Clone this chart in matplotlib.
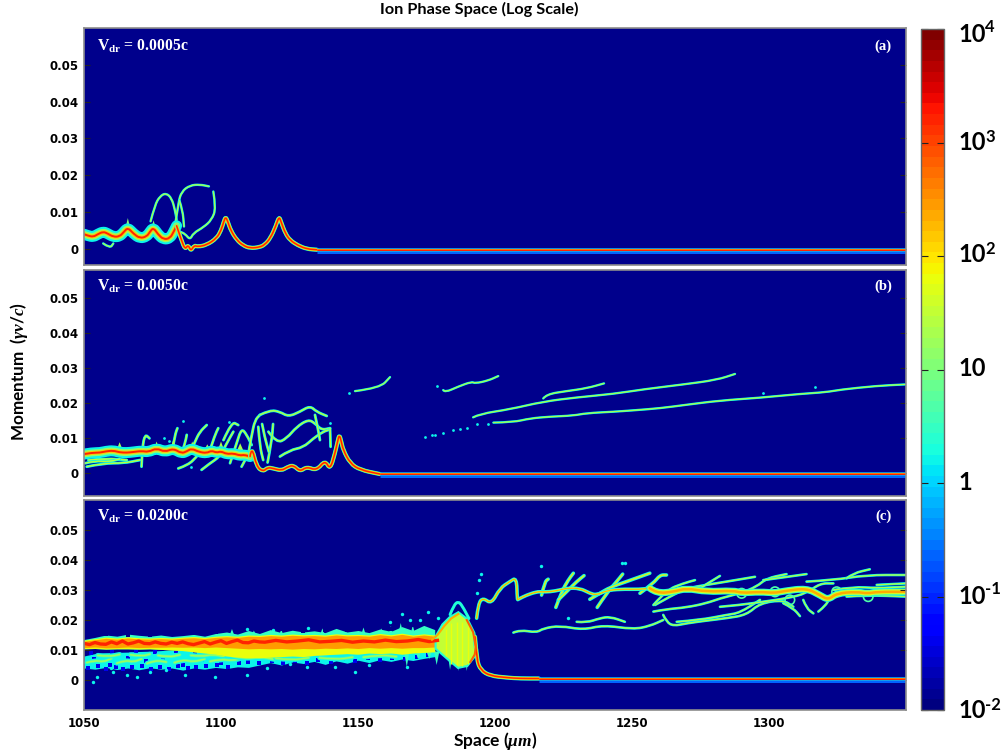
import numpy as np
import matplotlib
matplotlib.use('Agg')
import matplotlib.pyplot as plt
from matplotlib.colors import LogNorm
from matplotlib.path import Path
from matplotlib.patches import PathPatch

plt.rcParams['mathtext.fontset'] = 'custom'
plt.rcParams['mathtext.bf'] = 'Lato:bold'
plt.rcParams['mathtext.it'] = 'Liberation Serif:italic:bold'
plt.rcParams['mathtext.rm'] = 'Lato:bold'
plt.rcParams['mathtext.sf'] = 'Liberation Serif:bold'

W, H = 1006, 755

# ---- panel (a)
a_thick_x = [1050, 1051.5, 1053.4, 1055, 1057, 1058.6, 1060.7, 1063, 1064.5, 1066, 1068, 1070.4, 1072.9, 1074, 1075.3, 1077, 1079, 1081.4, 1082.8, 1083.8]
a_thick_y = [.0040, .0036, .0033, .0040, .0047, .0042, .0033, .0034, .0046, .0058, .0042, .0029, .0034, .0046, .0058, .0040, .0026, .0029, .0048, .0063]
a_thin_x = [1083.8, 1085.5, 1086.9, 1088, 1089, 1090.2, 1091.5, 1094.8, 1098.4, 1100, 1101, 1101.7, 1102.5, 1103.6, 1105.7,
            1108, 1110.6, 1114.2, 1116, 1118, 1120, 1121.2, 1122, 1123.5, 1125.2, 1128, 1131.3, 1135]
a_thin_y = [.0063, .0025, -.0002, .0012, -.0006, .0010, .0006, .0011, .0029, .0050, .0074, .0088, .0074, .0050, .0025,
            .0010, .0002, .0005, .0012, .0029, .0062, .0089, .0072, .0042, .0024, .0010, .0000, -.0002]
a_base_x = [1135, 1350]
a_base_y = [-.0002, -.0002]
a_spike_x = [1066, 1075.4, 1084]
a_spike_y = [.0084, .0078, .0078]
a_loop1_x = [1074.3, 1075.9, 1077.7, 1079.9, 1082, 1083.2, 1083.8]
a_loop1_y = [.0075, .0120, .0143, .0152, .0138, .0106, .0079]
a_loop2_x = [1083.2, 1084.4, 1085.6, 1088.7, 1092.3, 1095.6]
a_loop2_y = [.0061, .0125, .0156, .0173, .0175, .0170]
a_loop3_x = [1097.2, 1098.2, 1096.6, 1093.6, 1089.9, 1088.7, 1086.9, 1085]
a_loop3_y = [.0156, .0111, .0079, .0059, .0043, .0025, .0041, .0047]
a_loop4_x = [1084.8, 1086, 1086.5]
a_loop4_y = [.0132, .0106, .0061]
a_low_x = [1057, 1059.5, 1060.7]
a_low_y = [.0015, .0002, .0015]

# ---- panel (b)
b_thick_x = [1050, 1053, 1055.8, 1058, 1060.7, 1063, 1065.6, 1068, 1071, 1073.5, 1076.5, 1079.5, 1082.6, 1085.6, 1087.5, 1089.3, 1092, 1094.8, 1096.5, 1098.4, 1100, 1102.1, 1104.5, 1106.9, 1108.5, 1110.6]
b_thick_y = [.0054, .0058, .0058, .0062, .0064, .0059, .0058, .0060, .0063, .0060, .0071, .0060, .0070, .0056, .0062, .0070, .0060, .0057, .0064, .0058, .0062, .0054, .0056, .0050, .0052, .0047]
b_thin_x = [1110.6, 1111.2, 1113, 1115.4, 1117, 1119.1, 1122.1, 1124, 1126.4, 1128.8, 1131.3, 1134.9, 1138, 1139.8, 1141.6, 1142.6, 1143.2, 1143.9,
            1144.6, 1147.1, 1150.7, 1158]
b_thin_y = [.0047, .0078, .0018, .0004, .0016, .0013, .0007, .0016, .0023, .0004, .0018, .0007, .0037, .0009, .0056, .0092, .0110, .0090,
            .0066, .0028, .0009, -.0003]
b_base_x = [1158, 1350]
b_base_y = [-.0003, -.0003]
b_spike_x = [1063, 1076.5, 1082.6, 1089.5, 1095, 1100, 1107]
b_spike_y = [.0088, .0090, .0095, .0090, .0082, .0090, .0085]
b_filaments = [
    ([1071, 1071.3, 1072.3, 1073.9], [.0018, .0075, .0111, .0099]),
    ([1082, 1083.2, 1084.1], [.0056, .0109, .0128]),
    ([1085.6, 1086.9, 1087.5], [.0056, .0085, .0109]),
    ([1088.7, 1090.5, 1092.3, 1094.8], [.0056, .0090, .0118, .0137]),
    ([1092.9, 1096, 1099.6, 1102.1, 1104.5], [.0009, .0028, .0047, .0085, .0118]),
    ([1096, 1097.8, 1099], [.0066, .0109, .0128]),
    ([1084.4, 1088.1, 1091.1], [.0013, .0023, .0047]),
    ([1103.3, 1105.7, 1107.5, 1109.4, 1111.2], [.0028, .0085, .0128, .0109, .0080]),
    ([1100.9, 1103.9, 1106.3], [.0094, .0147, .0137]),
    ([1107.5, 1108.8], [.0018, .0037]),
    ([1110, 1111.2, 1112.4, 1114.2], [.0056, .0109, .0151, .0166]),
    ([1114.2, 1117.9, 1121.5, 1124.6, 1128.8, 1132.5, 1134.9, 1138.6], [.0166, .018, .0175, .0161, .0175, .0192, .0175, .0163]),
    ([1117.3, 1120.3, 1124, 1127.6, 1131.9, 1134.3, 1136.7, 1139.8], [.0118, .0085, .0099, .0132, .0153, .0142, .0123, .0128]),
    ([1121.5, 1125.2, 1130, 1133.7, 1137.3, 1139.2], [.0047, .0066, .0073, .0099, .0118, .0123]),
    ([1113.6, 1114.2, 1115.4], [.0132, .0075, .0037]),
    ([1134.3, 1135.5, 1136.1], [.0166, .0123, .0094]),
    ([1139.8, 1140], [.0128, .0075]),
    ([1051, 1057, 1064.4, 1070.4], [.0018, .0028, .0028, .0037]),
    ([1051.6, 1058.3, 1065.6], [.0037, .0042, .0037]),
    ([1050.5, 1054, 1059, 1063], [.0028, .0035, .0032, .0040]),
    ([1117, 1118.5, 1119], [.0030, .0090, .0140]),
    ([1115, 1116, 1117.5], [.0140, .0100, .0060]),
]
b_high = [
    ([1148.9, 1158, 1161.7], [.0234, .0243, .0274]),
    ([1181.1, 1181.7, 1186.6, 1191.5, 1192.7, 1197.5, 1201.2], [.0237, .0230, .0247, .0261, .0256, .0264, .0277]),
    ([1217.6, 1218.8, 1226.1, 1233.4, 1239.8], [.0213, .0225, .0234, .0242, .0256]),
    ([1192, 1194.5, 1205.4, 1217.6, 1229.8, 1243.2, 1254.1, 1268.7, 1280.9, 1287.6],
     [.0159, .0169, .0182, .0204, .0216, .0226, .0239, .0253, .0266, .0283]),
    ([1199.4, 1206.7, 1212.7, 1220, 1228.6, 1233.4, 1243.2, 1250.5, 1260.2, 1269.9, 1282.1, 1296.7, 1311.3, 1321, 1325.9, 1339.3, 1349.6],
     [.0144, .0145, .0156, .0161, .0164, .0171, .0175, .0179, .0185, .0195, .0207, .0215, .0226, .0231, .0238, .0249, .0253]),
]
b_dots_x = [1174.4, 1176.9, 1178.1, 1181.1, 1184.8, 1187.2, 1189.6, 1193.3, 1197.5, 1178.7, 1297.9, 1316.8,
            1115.8, 1086.3, 1079.2, 1139.8, 1146.7, 1081, 1089, 1103]
b_dots_y = [.0104, .0109, .0110, .0115, .0122, .0126, .0130, .0139, .0140, .0250, .0228, .0245,
            .0213, .0149, .0099, .0142, .0228, .0092, .0018, .0146]

# ---- panel (c)
band_x = [1050 + 4 * i for i in range(33)]
c_cyan_top = [.0135, .0142, .0150, .0146, .0153, .0149, .0146, .0150, .0145, .0148, .0152, .0146, .0155, .0160, .0153, .0165, .0155,
              .0168, .0158, .0166, .0160, .0164, .0158, .0172, .0160, .0165, .0158, .0170, .0162, .0178, .0165, .0182, .0168]
c_yel_top = [.0133, .0138, .0143, .0140, .0144, .0141, .0140, .0142, .0140, .0143, .0145, .0142, .0146, .0148, .0146, .0150, .0149,
             .0152, .0150, .0153, .0151, .0152, .0150, .0154, .0151, .0152, .0150, .0155, .0151, .0156, .0150, .0154, .0150]
c_ora_bot = [.0108, .0110, .0107, .0108, .0110, .0108, .0109, .0109, .0110, .0109, .0110, .0108, .0110, .0108, .0106, .0104, .0105,
             .0104, .0105, .0103, .0105, .0104, .0106, .0105, .0107, .0105, .0108, .0106, .0108, .0106, .0108, .0108, .0110]
c_yel_bot = [.0104, .0105, .0103, .0104, .0104, .0103, .0104, .0102, .0100, .0098, .0094, .0090, .0086, .0080, .0076, .0074, .0074,
             .0076, .0078, .0080, .0078, .0082, .0084, .0086, .0088, .0086, .0090, .0088, .0090, .0086, .0090, .0092, .0094]
c_low_top = [.0080, .0088, .0090, .0092, .0093, .0095, .0096, .0098, .0100, .0100, .0098, .0094, .0090, .0084, .0080, .0078, .0076,
             .0078, .0080, .0082, .0080, .0084, .0086, .0088, .0090, .0088, .0092, .0090, .0092, .0088, .0092, .0094, .0096]
c_low_bot = [.0040, .0036, .0042, .0035, .0040, .0034, .0041, .0036, .0040, .0033, .0040, .0036, .0042, .0038, .0044, .0042, .0050,
             .0058, .0050, .0060, .0055, .0062, .0052, .0064, .0056, .0066, .0058, .0068, .0062, .0070, .0065, .0072, .0078]
c_red_x = [1050 + 2 * i for i in range(33)] + [1116, 1120, 1124, 1128, 1132, 1136, 1140, 1144, 1148, 1152, 1156, 1160, 1164, 1168, 1172, 1176, 1179]
c_red_y = [.0122, .0118, .0125, .0120, .0119, .0127, .0121, .0130, .0120, .0124, .0130, .0122, .0121, .0127, .0122, .0120, .0126,
           .0122, .0127, .0121, .0118, .0123, .0128, .0120, .0126, .0131, .0122, .0128, .0133, .0125, .0124, .0130, .0127,
           .0126, .0132, .0127, .0130, .0134, .0127, .0129, .0132, .0126, .0130, .0127, .0133, .0128, .0130, .0135, .0128, .0132]
c_low_strokes = [
    ([1051, 1054, 1057, 1060], [.0058, .0066, .0060, .0072]),
    ([1055, 1059, 1063], [.0082, .0078, .0085]),
    ([1062, 1065, 1068, 1071], [.0056, .0066, .0060, .0070]),
    ([1067, 1071, 1074], [.0084, .0079, .0086]),
    ([1073, 1076, 1080], [.0055, .0066, .0060]),
    ([1077, 1081, 1085], [.0082, .0076, .0084]),
    ([1083, 1086, 1090, 1094], [.0058, .0068, .0060, .0070]),
    ([1089, 1093, 1097, 1101], [.0082, .0078, .0086, .0078]),
    ([1096, 1100, 1104, 1108], [.0062, .0070, .0064, .0074]),
    ([1104, 1109, 1114, 1120], [.0080, .0070, .0078, .0068]),
    ([1120, 1126, 1132], [.0072, .0066, .0074]),
    ([1136, 1142, 1148], [.0074, .0068, .0076]),
    ([1152, 1158, 1164], [.0076, .0084, .0078]),
]
c_bite_x = [1051.5, 1055, 1058.2, 1061.6, 1064.4, 1067.6, 1071.3, 1074.6, 1077.8, 1081, 1084.3, 1087.8, 1091, 1094.5, 1098.5, 1102.5, 1106.4,
            1110, 1114, 1118.5, 1122.8, 1127, 1131.5, 1135.5, 1140, 1144.5, 1149, 1153.5, 1158, 1162.5, 1167, 1171.5, 1175.5,
            1053.5, 1059.5, 1066, 1072.5, 1079, 1086, 1093, 1100,
            1052.6, 1060.4, 1069, 1076, 1083.5, 1090.5, 1097]
c_bite_y = [.0041, .0046, .0038, .0044, .0036, .0042, .0047, .0038, .0044, .0036, .0046, .0040, .0043, .0047, .0049, .0045, .0056,
            .0060, .0056, .0064, .0058, .0065, .0057, .0068, .0061, .0070, .0064, .0072, .0068, .0075, .0071, .0077, .0082,
            .0070, .0050, .0074, .0062, .0072, .0050, .0068, .0058,
            .0090, .0094, .0096, .0093, .0098, .0090, .0094]
c_bite2_x = [1058, 1066, 1074, 1082, 1090, 1098, 1106, 1114, 1122, 1130, 1138, 1146, 1154, 1162, 1170]
c_bite2_y = [.0153, .0151, .0150, .0154, .0158, .0161, .0168, .0163, .0170, .0165, .0168, .0166, .0175, .0170, .0184]
c_specks_x = [1053.4, 1054.6, 1060.7, 1065.6, 1069.2, 1074.1, 1086.9, 1097.8, 1109.4, 1116.7, 1131.3, 1141.6, 1148.9, 1167.8,
              1175.7, 1179.3, 1169, 1172.6, 1161.7, 1131.9, 1109.4, 1119.1, 1165.9, 1194.8, 1194.3, 1193.6,
              1216.8, 1246.2, 1247.4, 1226.7, 1060, 1080, 1125, 1154]
c_specks_y = [-.0006, .0011, .0028, .0017, .0011, .0028, .0017, .0011, .0017, .0039, .0042, .0042, .0028, .0044,
              .0228, .0206, .02, .02, .0194, .0175, .0169, .0167, .0221, .0353, .0333, .0290,
              .0381, .0389, .0389, .0206, .0040, .0032, .0052, .0050]
c_spike_up_x = [1104, 1112, 1122, 1137, 1152, 1158.5, 1162, 1165.6, 1170, 1175]
c_spike_up_y = [.0170, .0165, .0168, .0172, .0175, .0172, .0180, .0190, .0182, .0175]
c_spike_dn_x = [1167.8, 1172, 1176, 1178.7, 1183.6, 1186.6, 1189.7]
c_spike_dn_y = [.0044, .0067, .0070, .0050, .0034, .0030, .0030]
c_blob_x = [1178.7, 1181.1, 1183.6, 1186.6, 1189.7, 1192.1, 1193.1, 1192.1, 1189.7, 1186.6, 1183.6, 1178.7]
c_blob_y = [.0144, .0183, .0206, .0222, .0200, .0156, .0100, .0078, .0050, .0044, .0067, .0106]
c_fringe_x = [1183.6, 1185, 1186.6, 1188, 1190.5]
c_fringe_y = [.0218, .0250, .0262, .0248, .0205]
c_rim_x = [1177, 1179, 1181.5, 1184, 1186.6]
c_rim_y = [.0134, .0150, .0180, .0205, .0220]
c_rim2_x = [1189.7, 1192, 1193, 1192.6, 1191]
c_rim2_y = [.0200, .0160, .0110, .0085, .0060]
c_streak_x = [1182, 1184, 1186, 1188, 1190]
c_streak_lo = [.0080, .0055, .0050, .0048, .0055]
c_streak_hi = [.0170, .0190, .0195, .0195, .0180]
c_drop_x = [1192.7, 1193.3, 1194.8, 1198.2, 1204.3, 1209.1, 1216]
c_drop_y = [.0144, .0067, .0033, .0014, .0008, .0005, .0005]
c_base_x = [1216, 1350]
c_base_y = [.0005, .0005]
c_up_x = [1193.3, 1193.9, 1195.7, 1198.7, 1201.8, 1205.4, 1207.9, 1208.1, 1208.5, 1211.5, 1215.2, 1217, 1220, 1223.7, 1226.1, 1231, 1234.6,
          1237.1, 1240.7, 1245.6, 1252.9, 1256.5, 1259]
c_up_y = [.0206, .0256, .0274, .0253, .0306, .0328, .0342, .0267, .0269, .0283, .0294, .0294, .0294, .03, .0306, .0306, .0289,
          .0283, .0298, .0303, .0302, .0306, .0289]
c_core_x = [1256.5, 1259, 1265.1, 1269.9, 1277.2, 1287, 1290, 1296.7, 1302, 1305.2, 1313.7, 1318.6, 1321.6, 1324.7, 1332, 1336, 1339.3, 1350]
c_core_y = [.0306, .0289, .0294, .0306, .0294, .0298, .0290, .0294, .0290, .0296, .0306, .0283, .0267, .0289, .0294, .0288, .0294, .0294]
c_spurs = [
    ([1217, 1218.2, 1219.4], [.0283, .0328, .0336]),
    ([1222.2, 1224.3, 1226.7, 1228.6], [.0242, .0294, .0333, .0356]),
    ([1223.1, 1226.1, 1229.8, 1232.5], [.0267, .0294, .0328, .0348]),
    ([1237.3, 1240.7, 1244.4, 1246.6], [.0242, .0289, .0328, .0353]),
    ([1234.6, 1238.3, 1242, 1248, 1256.5], [.0269, .0289, .0309, .0328, .0356]),
    ([1252.9, 1257.8, 1260.2, 1262.6], [.0289, .0322, .035, .035]),
]
c_bundle = [
    ([1257.8, 1262.6, 1269.9, 1277.2, 1282.1, 1289.4, 1295.5, 1299.1, 1306.4], [.0228, .0236, .0242, .0256, .0272, .0289, .0311, .0339, .0353]),
    ([1258.4, 1263.8, 1269.9, 1277.2, 1284.5, 1294.9], [.025, .0278, .0306, .0317, .0328, .0344]),
    ([1274.8, 1282.1], [.0306, .0347]),
    ([1257.8, 1262.6, 1268.7, 1273], [.025, .03, .0322, .0333]),
    ([1261.4, 1262.6, 1265.1, 1269.9, 1277.2, 1284.5, 1291.8, 1296.7, 1305.2, 1308.9], [.0217, .0194, .018, .0189, .0198, .0206, .0217, .0256, .0267, .0244]),
    ([1266.3, 1274.8, 1284.5, 1289.4, 1296.7], [.0194, .02, .0217, .0224, .0267]),
    ([1282.1, 1289.4, 1297.9, 1306.4, 1313.7, 1318.6, 1323.5], [.0244, .025, .0261, .0272, .0289, .0322, .0322]),
    ([1297.9, 1302.8, 1313.7], [.0333, .0339, .0353]),
    ([1313.7, 1323.5, 1335.6, 1350], [.0328, .0333, .035, .035]),
    ([1328.3, 1330.8, 1336.8], [.0339, .0356, .0369]),
    ([1305.2, 1308.9, 1311.3], [.0256, .0239, .0213]),
    ([1312.5, 1313.7, 1316.2], [.0267, .0239, .0222]),
    ([1318, 1321, 1322.2, 1324.7], [.0228, .025, .0278, .0294]),
    ([1339.3, 1350], [.0317, .0322]),
    ([1323.5, 1330.8, 1339.3, 1350], [.03, .0311, .0306, .0311]),
    ([1328.3, 1335.6, 1350], [.0278, .0283, .0278]),
    ([1206.7, 1209.1, 1215.2, 1217.6, 1223.7, 1232.2, 1239.5, 1250.5, 1256.5, 1261.4], [.0158, .0167, .0158, .0172, .0181, .0167, .0183, .0169, .018, .02]),
    ([1229.8, 1233.4, 1238.3, 1242, 1247.4], [.0194, .0191, .0206, .0211, .0194]),
]
c_ring_x = [1290, 1302.2, 1307.6, 1324.7, 1336.2]
c_ring_y = [.0289, .0294, .0267, .0294, .0278]

ytick_vals = [0, .01, .02, .03, .04, .05]
ytick_txt = ['0', '0.01', '0.02', '0.03', '0.04', '0.05']
xtick_vals = [1050, 1100, 1150, 1200, 1250, 1300]
cb_vals = [1e-2, 1e-1, 1, 10, 1e2, 1e3, 1e4]
cb_base = ['10', '10', '1', '10', '10', '10', '10']
cb_sup = ['-2', '-1', '', '', '2', '3', '4']
cb_ypx = [711, 596, 482, 369, 255, 143, 34]
panel_names = ['(a)', '(b)', '(c)']
panel_speeds = ['0.0005c', '0.0050c', '0.0200c']

jet = plt.get_cmap('jet', 64)
bg = '#00008c'
grey = '#8c8c8c'
thin_ramp = [1.0, 0.62, 0.36, 0.18]
hot_ramp = [1.0, 0.82, 0.66, 0.36]


def curve(x, y):
    # quadratic path through the midpoints so the strokes do not look polygonal
    v = [(x[0], y[0])]
    c = [Path.MOVETO]
    for i in range(1, len(x) - 1):
        v += [(x[i], y[i]), ((x[i] + x[i + 1]) / 2, (y[i] + y[i + 1]) / 2)]
        c += [Path.CURVE3, Path.CURVE3]
    v.append((x[-1], y[-1]))
    c.append(Path.LINETO)
    return Path(v, c)


def stroke(ax, x, y, peak, w, ramp=thin_ramp):
    # stacked strokes, outer cold to inner hot, w is total width in px
    levels = np.linspace(0.36, peak, 4)
    p = curve(x, y)
    for lev, f in zip(levels, ramp):
        ax.add_patch(PathPatch(p, fill=False, ec=jet(lev), lw=w * 0.72 * f, capstyle='round', joinstyle='round'))


def baseline(ax, x, y):
    below = [v - .0004 for v in y]
    ax.plot(x, below, color=jet(0.22), lw=3.6, solid_capstyle='butt')
    ax.plot(x, y, color=jet(0.3), lw=2.6, solid_capstyle='butt')
    ax.plot(x, y, color=jet(0.78), lw=1.5, solid_capstyle='butt')
    ax.plot(x, y, color=jet(0.87), lw=0.8, solid_capstyle='butt')


def spikes(ax, xs, tips, base, col, hw):
    # narrow triangles for the jagged edge of a band
    for xp, tip in zip(xs, tips):
        ax.fill([xp - hw, xp, xp + hw], [base, tip, base], color=col, lw=0)


def make_axes(top, bottom, ymax, ymin):
    ax = fig.add_axes([84 / W, 1 - bottom / H, (906 - 84) / W, (bottom - top) / H], facecolor=bg)
    ax.set_xlim(1050, 1350)
    ax.set_ylim(ymin, ymax)
    ax.set_yticks(ytick_vals)
    ax.set_yticklabels(ytick_txt, fontsize=8.5, fontweight='bold', family='DejaVu Sans')
    ax.tick_params(axis='y', direction='in', length=4, width=0.8, color='#222222', right=True, pad=4)
    ax.set_xticks(xtick_vals)
    ax.tick_params(axis='x', length=0, pad=5, labelbottom=False)
    for s in ax.spines.values():
        s.set_color(grey)
        s.set_linewidth(1.2)
    return ax


fig = plt.figure(figsize=(W / 100, H / 100), dpi=100, facecolor='white')

# panel (a)
ax1 = make_axes(28, 265, .06, -.00435)
for xs, ys in [(a_loop1_x, a_loop1_y), (a_loop2_x, a_loop2_y), (a_loop3_x, a_loop3_y), (a_loop4_x, a_loop4_y), (a_low_x, a_low_y)]:
    stroke(ax1, xs, ys, 0.6, 2.4)
spikes(ax1, a_spike_x, a_spike_y, .004, jet(0.5), 1.4)
stroke(ax1, a_thick_x, a_thick_y, 0.86, 11)
baseline(ax1, a_base_x, a_base_y)
stroke(ax1, a_thin_x, a_thin_y, 0.87, 4.2, hot_ramp)

# panel (b)
ax2 = make_axes(270, 496, .058, -.00657)
for xs, ys in b_filaments:
    stroke(ax2, xs, ys, 0.62, 2.8)
for xs, ys in b_high:
    stroke(ax2, xs, ys, 0.6, 2.3)
ax2.scatter(b_dots_x, b_dots_y, s=4, color=jet(0.36), linewidths=0)
spikes(ax2, b_spike_x, b_spike_y, .006, jet(0.55), 1.4)
stroke(ax2, b_thick_x, b_thick_y, 0.87, 11)
baseline(ax2, b_base_x, b_base_y)
stroke(ax2, b_thin_x, b_thin_y, 0.87, 4.2, hot_ramp)

# panel (c)
ax3 = make_axes(500, 710, .06, -.01)
ax3.fill_between(band_x, c_low_bot, c_low_top, color=jet(0.37), lw=0)
ax3.scatter(c_bite_x, c_bite_y, s=7, marker='s', color=jet(0.1), linewidths=0)
for xs, ys in c_low_strokes:
    stroke(ax3, xs, ys, 0.56, 5)
ax3.scatter(c_specks_x, c_specks_y, s=6, color=jet(0.36), linewidths=0)
spikes(ax3, c_spike_up_x, c_spike_up_y, .014, jet(0.42), 1.2)
spikes(ax3, c_spike_dn_x, c_spike_dn_y, .0095, jet(0.42), 1)
ax3.fill_between(band_x, c_yel_bot, c_cyan_top, color=jet(0.42), lw=0)
ax3.scatter(c_bite2_x, c_bite2_y, s=10, marker='s', color=bg, linewidths=0)
ax3.fill_between(band_x, c_yel_bot, c_yel_top, color=jet(0.64), lw=0)
ax3.fill_between(band_x, c_ora_bot, [v - .0004 for v in c_yel_top], color=jet(0.74), lw=0)
ax3.plot(c_red_x, c_red_y, color=jet(0.86), lw=2.4)
stroke(ax3, c_fringe_x, c_fringe_y, 0.42, 3)
ax3.fill(c_blob_x, c_blob_y, color=jet(0.4), lw=3, ec=jet(0.4))
ax3.fill(c_blob_x, c_blob_y, color=jet(0.58), lw=0)
ax3.vlines(c_streak_x, c_streak_lo, c_streak_hi, color=jet(0.64), lw=1)
ax3.plot(c_rim_x, c_rim_y, color=jet(0.72), lw=1.5)
ax3.plot(c_rim2_x, c_rim2_y, color=jet(0.8), lw=1.5)
baseline(ax3, c_base_x, c_base_y)
stroke(ax3, c_drop_x, c_drop_y, 0.87, 4.2, hot_ramp)
for xs, ys in c_bundle:
    stroke(ax3, xs, ys, 0.6, 2.6)
ax3.scatter(c_ring_x, c_ring_y, s=48, facecolors='none', edgecolors=jet(0.45), linewidths=1.2)
for xs, ys in c_spurs:
    stroke(ax3, xs, ys, 0.66, 3.6)
stroke(ax3, c_up_x, c_up_y, 0.76, 3.6)
stroke(ax3, c_core_x, c_core_y, 0.72, 7, hot_ramp)
ax3.set_xticklabels([str(v) for v in xtick_vals], fontsize=8.5, fontweight='bold', family='DejaVu Sans')
ax3.tick_params(axis='x', labelbottom=True)

for nm, sp, py in zip(panel_names, panel_speeds, [46, 286, 516]):
    fig.text(97 / W, 1 - py / H, r'$\mathsf{V_{dr}}$ = ' + sp, color='white', fontsize=11.3, fontweight='bold', family='Liberation Serif', va='center')
    fig.text(883 / W, 1 - py / H, nm, color='white', fontsize=10.5, fontweight='bold', family='Liberation Serif', ha='center', va='center')

# colour bar
cax = fig.add_axes([921 / W, 1 - 710 / H, 23 / W, 681 / H])
sm = plt.cm.ScalarMappable(norm=LogNorm(1e-2, 1e4), cmap=jet)
cb = fig.colorbar(sm, cax=cax)
cb.set_ticks(cb_vals)
cb.set_ticklabels([''] * len(cb_vals))
cax.minorticks_off()
cax.tick_params(which='both', direction='in', length=5, width=0.8, color='#222222', left=True, right=True)
cb.outline.set_edgecolor('#666666')
cb.outline.set_linewidth(1)
for txt, sup, py in zip(cb_base, cb_sup, cb_ypx):
    fig.text(958 / W, 1 - py / H, txt, fontsize=17, fontweight='bold', family='Lato', va='center')
    if sup:
        fig.text(985 / W, 1 - (py - 6.5) / H, sup, fontsize=12, fontweight='bold', family='Lato', va='center')

fig.text(479 / W, 1 - 9 / H, 'Ion Phase Space (Log Scale)', fontsize=11.7, fontweight='bold', family='Lato', ha='center', va='center')
fig.text(495 / W, 1 - 741 / H, r'Space ($\mu m$)', fontsize=12.5, fontweight='bold', family='Lato', ha='center', va='center')
fig.text(19 / W, 1 - 372 / H, r'Momentum  ($\gamma v/c$)', fontsize=12.3, fontweight='bold', family='Lato', rotation=90, ha='center', va='center')

fig.savefig('out.png', dpi=100)
